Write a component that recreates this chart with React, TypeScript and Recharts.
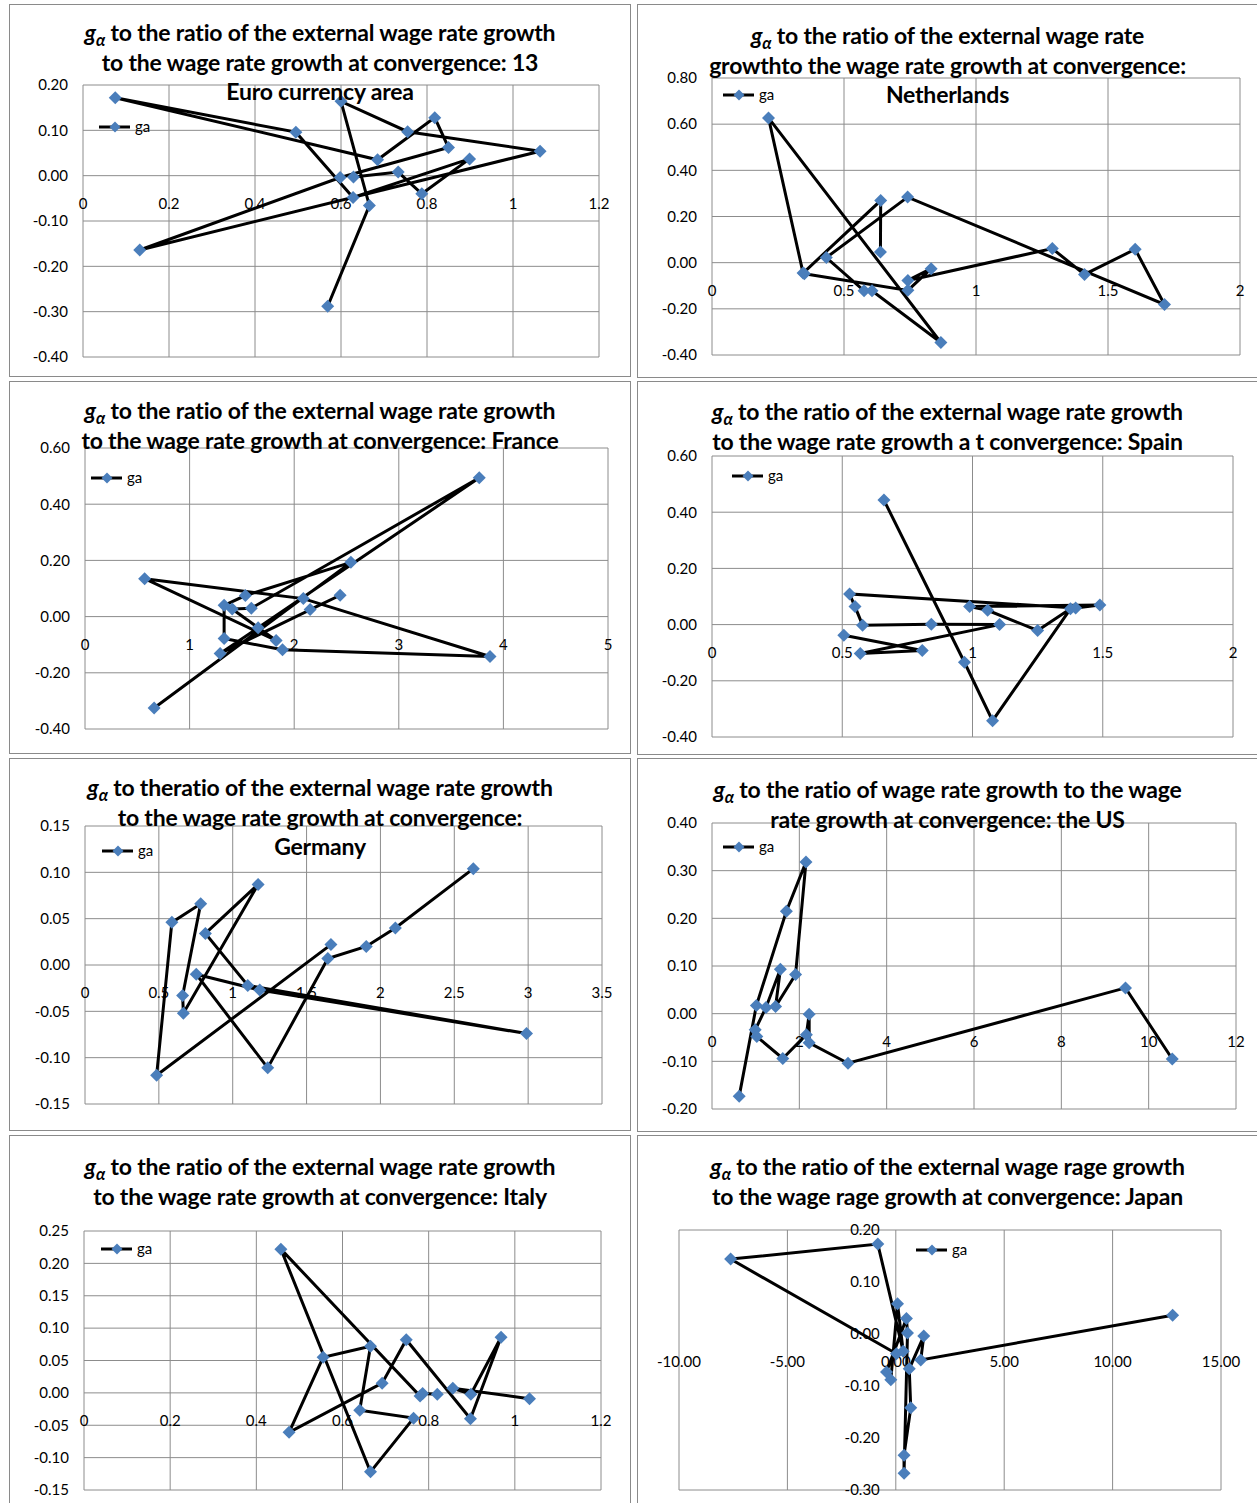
import { ScatterChart, Scatter, XAxis, YAxis, CartesianGrid, ReferenceDot } from 'recharts'

const GRID = '#8c8c8c'
const MARK = '#4a7ebb'
const FONT = 'Lato, "Open Sans", sans-serif'

// Euro currency area (13)
const euroX = [0.569, 0.666, 0.6, 0.755, 1.063, 0.132, 0.598, 0.85, 0.818, 0.685, 0.075, 0.495, 0.628, 0.899, 0.788, 0.733, 0.629]
const euroY = [-0.288, -0.066, 0.164, 0.097, 0.054, -0.164, -0.004, 0.062, 0.128, 0.035, 0.172, 0.096, -0.048, 0.037, -0.04, 0.008, -0.003]
const euroXTicks = [0, 0.2, 0.4, 0.6, 0.8, 1, 1.2]
const euroYTicks = [-0.4, -0.3, -0.2, -0.1, 0, 0.1, 0.2]

// Netherlands
const nlX = [0.638, 0.639, 0.345, 0.214, 0.867, 0.606, 0.576, 0.433, 0.741, 1.714, 1.603, 1.411, 1.289, 0.742, 0.83, 0.742, 0.35]
const nlY = [0.046, 0.269, -0.045, 0.627, -0.346, -0.122, -0.122, 0.022, 0.284, -0.181, 0.058, -0.051, 0.061, -0.077, -0.026, -0.12, -0.048]
const nlXTicks = [0, 0.5, 1, 1.5, 2]
const nlYTicks = [-0.4, -0.2, 0, 0.2, 0.4, 0.6, 0.8]

// France
const frX = [0.661, 2.542, 1.533, 1.33, 1.33, 1.888, 3.872, 2.087, 0.57, 1.827, 1.407, 1.59, 3.769, 1.655, 1.292, 2.439, 2.152]
const frY = [-0.325, 0.193, 0.075, 0.04, -0.078, -0.118, -0.142, 0.064, 0.135, -0.085, 0.027, 0.03, 0.494, -0.04, -0.131, 0.076, 0.025]
const frXTicks = [0, 1, 2, 3, 4, 5]
const frYTicks = [-0.4, -0.2, 0, 0.2, 0.4, 0.6]

// Spain
const esX = [0.506, 0.807, 0.569, 1.104, 0.842, 0.578, 0.549, 0.528, 1.396, 1.489, 0.989, 1.058, 1.25, 1.376, 1.077, 0.969, 0.66]
const esY = [-0.038, -0.092, -0.103, 0.0, 0.001, -0.002, 0.064, 0.109, 0.059, 0.07, 0.064, 0.051, -0.021, 0.056, -0.342, -0.134, 0.443]
const esXTicks = [0, 0.5, 1, 1.5, 2]
const esYTicks = [-0.4, -0.2, 0, 0.2, 0.4, 0.6]

// Germany
const deX = [2.629, 2.101, 1.904, 1.644, 1.237, 0.753, 1.183, 2.989, 1.102, 0.815, 1.172, 0.666, 0.661, 0.783, 0.588, 0.485, 1.665]
const deY = [0.104, 0.04, 0.02, 0.007, -0.111, -0.01, -0.027, -0.074, -0.022, 0.034, 0.087, -0.052, -0.033, 0.066, 0.046, -0.119, 0.022]
const deXTicks = [0, 0.5, 1, 1.5, 2, 2.5, 3, 3.5]
const deYTicks = [-0.15, -0.1, -0.05, 0, 0.05, 0.1, 0.15]

// the US
const usX = [0.623, 1.016, 1.703, 2.152, 1.914, 1.456, 1.566, 1.236, 0.989, 1.026, 1.621, 2.161, 2.225, 2.225, 3.114, 9.469, 10.54]
const usY = [-0.173, 0.017, 0.215, 0.318, 0.082, 0.015, 0.093, 0.013, -0.034, -0.048, -0.094, -0.044, -0.001, -0.061, -0.104, 0.054, -0.095]
const usXTicks = [0, 2, 4, 6, 8, 10, 12]
const usYTicks = [-0.2, -0.1, 0, 0.1, 0.2, 0.3, 0.4]

// Italy
const itX = [1.034, 0.856, 0.898, 0.968, 0.897, 0.748, 0.692, 0.476, 0.555, 0.665, 0.64, 0.765, 0.665, 0.457, 0.78, 0.786, 0.82]
const itY = [-0.009, 0.007, -0.002, 0.086, -0.04, 0.082, 0.015, -0.061, 0.055, 0.072, -0.027, -0.039, -0.122, 0.222, -0.005, -0.001, -0.002]
const itXTicks = [0, 0.2, 0.4, 0.6, 0.8, 1, 1.2]
const itYTicks = [-0.15, -0.1, -0.05, 0, 0.05, 0.1, 0.15, 0.2, 0.25]

// Japan
const jpX = [0.03, -7.62, -0.83, 0.34, 0.08, -0.23, -0.43, 0.49, 0.54, 0.38, 0.38, 0.69, 0.62, 1.29, 1.15, 12.77]
const jpY = [-0.038, 0.144, 0.173, -0.033, 0.058, -0.088, -0.073, 0.03, 0.002, -0.268, -0.233, -0.142, -0.067, -0.004, -0.05, 0.036]
const jpXTicks = [-10, -5, 0, 5, 10, 15]
const jpYTicks = [-0.3, -0.2, -0.1, 0, 0.1, 0.2]

const toPoints = (xs: number[], ys: number[]) => xs.map((x, i) => ({ x, y: ys[i] }))

function Diamond(props: any) {
  const { cx, cy } = props
  if (cx == null || cy == null) return null
  const r = 6.5
  return <polygon points={`${cx},${cy - r} ${cx + r},${cy} ${cx},${cy + r} ${cx - r},${cy}`} fill={MARK} />
}

function Ga() {
  return (
    <>
      <span style={{ fontStyle: 'italic' }}>g</span>
      <span style={{ fontSize: '0.72em', fontStyle: 'italic', lineHeight: 0, position: 'relative', top: '0.3em' }}>α</span>
    </>
  )
}

type PanelProps = {
  box: [number, number, number, number]
  plot: [number, number, number, number]
  title: string[]
  titleTop: number
  xs: number[]
  ys: number[]
  xTicks: number[]
  yTicks: number[]
  xFixed?: boolean
  yAtZero?: boolean
  legend: [number, number]
}

function Panel({ box, plot, title, titleTop, xs, ys, xTicks, yTicks, xFixed, yAtZero, legend }: PanelProps) {
  const [bl, bt, br, bb] = box
  const [pl, pt, pr, pb] = plot
  const data = toPoints(xs, ys)
  const xDomain = [xTicks[0], xTicks[xTicks.length - 1]]
  const yDomain = [yTicks[0], yTicks[yTicks.length - 1]]
  const width = pr - pl + 100
  const height = pb - pt + 20
  const labelStyle = { fontSize: 15, fill: '#000', fontFamily: FONT }
  return (
    <>
      <div style={{ position: 'absolute', left: bl, top: bt, width: br - bl, height: bb - bt, border: '1px solid #8a8a8a', boxSizing: 'border-box' }} />
      <div style={{ position: 'absolute', left: pl - 70, top: pt - 10 }}>
        <ScatterChart width={width} height={height} margin={{ top: 10, right: 30, bottom: 10, left: 0 }}>
          <CartesianGrid stroke={GRID} strokeWidth={1} />
          <XAxis dataKey="x" type="number" domain={xDomain} ticks={xTicks} allowDataOverflow hide />
          <YAxis
            dataKey="y"
            type="number"
            domain={yDomain}
            ticks={yTicks}
            allowDataOverflow
            width={70}
            axisLine={false}
            tickLine={false}
            tickMargin={9}
            tick={yAtZero ? false : labelStyle}
            tickFormatter={(v: number) => v.toFixed(2)}
          />
          {xTicks.map((t) => (
            <ReferenceDot
              key={'x' + t}
              x={t}
              y={0}
              r={0}
              shape={(p: any) => (
                <text x={p.cx} y={p.cy + 33} textAnchor="middle" {...labelStyle}>
                  {xFixed ? t.toFixed(2) : String(t)}
                </text>
              )}
            />
          ))}
          {yAtZero &&
            yTicks.map((t) => (
              <ReferenceDot
                key={'y' + t}
                x={0}
                y={t}
                r={0}
                shape={(p: any) => (
                  <text x={p.cx - 16} y={p.cy + 5} textAnchor="end" {...labelStyle}>
                    {t.toFixed(2)}
                  </text>
                )}
              />
            ))}
          <Scatter
            data={data}
            line={{ stroke: '#000', strokeWidth: 3 }}
            lineType="joint"
            shape={Diamond}
            fill={MARK}
            isAnimationActive={false}
          />
        </ScatterChart>
      </div>
      <div
        style={{
          position: 'absolute',
          left: bl,
          top: titleTop - 15,
          width: br - bl,
          textAlign: 'center',
          fontFamily: FONT,
          fontWeight: 700,
          fontSize: 23,
          lineHeight: '29.5px',
          color: '#000',
          pointerEvents: 'none',
          letterSpacing: '-0.2px',
        }}
      >
        {title.map((line, i) => (
          <div key={i} style={{ height: 29.5, whiteSpace: 'nowrap' }}>
            {i === 0 ? (
              <>
                <Ga /> {line}
              </>
            ) : (
              line
            )}
          </div>
        ))}
      </div>
      <svg style={{ position: 'absolute', left: legend[0], top: legend[1] - 10 }} width={60} height={20}>
        <line x1={0} y1={10} x2={31} y2={10} stroke="#000" strokeWidth={3} />
        <polygon points="16,4.5 21.5,10 16,15.5 10.5,10" fill={MARK} />
        <text x={36} y={15} fontSize={15} fontFamily={FONT} fill="#000">
          ga
        </text>
      </svg>
    </>
  )
}

export default function App() {
  return (
    <div style={{ position: 'absolute', left: 0, top: 0, width: 1257, height: 1503, background: '#fff', overflow: 'hidden' }}>
      <Panel
        box={[9, 4, 631, 377]}
        plot={[83, 85, 599, 357]}
        title={['to the ratio of the external wage rate growth', 'to the wage rate growth at convergence: 13', 'Euro currency area']}
        titleTop={33}
        xs={euroX}
        ys={euroY}
        xTicks={euroXTicks}
        yTicks={euroYTicks}
        legend={[99, 127]}
      />
      <Panel
        box={[637, 4, 1258, 378]}
        plot={[712, 78, 1240, 355]}
        title={['to the ratio of the external wage rate', 'growthto the wage rate growth at convergence:', 'Netherlands']}
        titleTop={36}
        xs={nlX}
        ys={nlY}
        xTicks={nlXTicks}
        yTicks={nlYTicks}
        legend={[723, 95]}
      />
      <Panel
        box={[9, 381, 631, 754]}
        plot={[85, 448, 608, 729]}
        title={['to the ratio of the external wage rate growth', 'to the wage rate growth at convergence: France']}
        titleTop={411}
        xs={frX}
        ys={frY}
        xTicks={frXTicks}
        yTicks={frYTicks}
        legend={[91, 478]}
      />
      <Panel
        box={[637, 381, 1258, 755]}
        plot={[712, 456, 1233, 737]}
        title={['to the ratio of the external wage rate growth', 'to the wage rate growth a t convergence: Spain']}
        titleTop={412}
        xs={esX}
        ys={esY}
        xTicks={esXTicks}
        yTicks={esYTicks}
        legend={[732, 476]}
      />
      <Panel
        box={[9, 758, 631, 1131]}
        plot={[85, 826, 602, 1104]}
        title={['to theratio of the external wage rate growth', 'to the wage rate growth at convergence:', 'Germany']}
        titleTop={788}
        xs={deX}
        ys={deY}
        xTicks={deXTicks}
        yTicks={deYTicks}
        legend={[102, 851]}
      />
      <Panel
        box={[637, 758, 1258, 1132]}
        plot={[712, 823, 1236, 1109]}
        title={['to the ratio of wage rate growth to the wage', 'rate growth at convergence: the US']}
        titleTop={790}
        xs={usX}
        ys={usY}
        xTicks={usXTicks}
        yTicks={usYTicks}
        legend={[723, 847]}
      />
      <Panel
        box={[9, 1135, 631, 1510]}
        plot={[84, 1231, 601, 1490]}
        title={['to the ratio of the external wage rate growth', 'to the wage rate growth at convergence: Italy']}
        titleTop={1167}
        xs={itX}
        ys={itY}
        xTicks={itXTicks}
        yTicks={itYTicks}
        legend={[101, 1249]}
      />
      <Panel
        box={[637, 1135, 1258, 1510]}
        plot={[679, 1230, 1221, 1490]}
        title={['to the ratio of the external wage rage growth', 'to the wage rage growth at convergence: Japan']}
        titleTop={1167}
        xs={jpX}
        ys={jpY}
        xTicks={jpXTicks}
        yTicks={jpYTicks}
        xFixed
        yAtZero
        legend={[916, 1250]}
      />
    </div>
  )
}
